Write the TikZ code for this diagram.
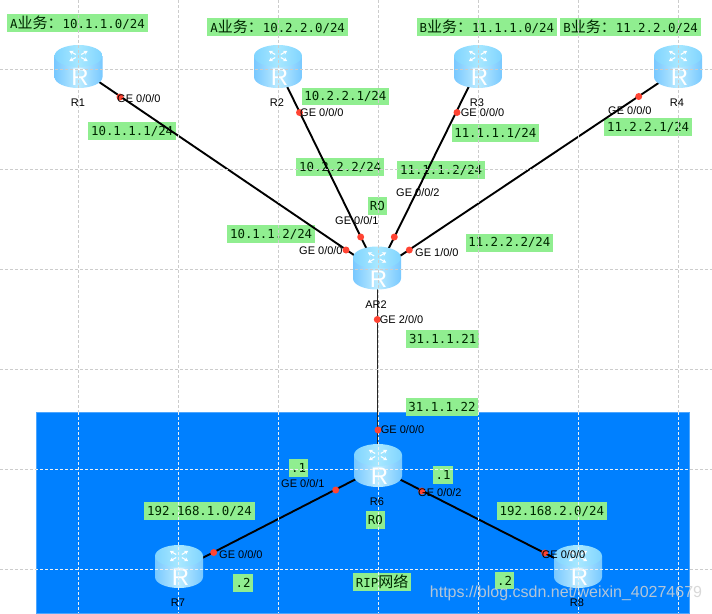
\documentclass[tikz,border=0pt]{standalone}
\usepackage{fontspec}
\setmainfont{Liberation Sans}
\newfontfamily\labmono{DejaVu Sans Mono}
\newfontfamily\cjkf{Noto Sans CJK SC}
\usetikzlibrary{arrows.meta}
\definecolor{labgreen}{HTML}{90EE90}
\definecolor{netblue}{HTML}{0080FF}
\definecolor{portred}{HTML}{FF4433}
\definecolor{gridgray}{HTML}{CCCCCC}
\definecolor{bodyedge}{HTML}{78C8FF}
\definecolor{bodymid}{HTML}{BDECFF}
\definecolor{topedge}{HTML}{80D4FF}
\definecolor{topmid}{HTML}{A8E8FF}
\tikzset{
  labelbox/.style={fill=labgreen,inner sep=0pt,font=\labmono\fontsize{12.4}{14}\selectfont,text=black!85!green},
  hub/.style={inner sep=0pt,minimum size=0pt},
  link/.style={line width=1.9pt,black},
  trunk/.style={line width=1.1pt,black!85},
  port/.style={circle,fill=portred,inner sep=0pt,minimum size=7pt},
  iface/.style={anchor=west,inner sep=0pt,font=\fontsize{11}{12}\selectfont,text=black},
  rname/.style={inner sep=0pt,font=\fontsize{11}{12}\selectfont,text=black},
  gridline/.style={line width=.7pt,dash pattern=on 3pt off 2pt}
}
\newcommand{\labbox}[6]{%
  \pgfmathsetmacro{\bw}{#4-#2}\pgfmathsetmacro{\bh}{#5-#3}%
  \pgfmathsetmacro{\bx}{(#2+#4)/2}\pgfmathsetmacro{\by}{(#3+#5)/2}%
  \node[labelbox,minimum width=\bw pt,minimum height=\bh pt] (#1) at (\bx,\by) {#6};}
\newcommand{\routericon}[3]{%
  \begin{scope}[shift={(#2,#3)}]
    \shade[left color=bodyedge,right color=bodyedge,middle color=bodymid]
      (-24,-10.5) -- (-24,10.5) arc[start angle=180,end angle=0,x radius=24,y radius=11] -- (24,-10.5) -- cycle;
    \shade[left color=topedge,right color=topedge,middle color=topmid]
      (0,-10.5) ellipse[x radius=24,y radius=11];
    \begin{scope}[shift={(0,-10.5)},yscale=.55]
      \foreach \a in {45,135,225,315}{
        \draw[white,line width=1.1pt,-{Stealth[length=4pt,width=4.5pt]},rotate=\a] (4,0) -- (13,0);
      }
    \end{scope}
    \node[hub,text=white,font=\fontsize{24}{25}\selectfont] (#1icon) at (1.5,11) {R};
  \end{scope}}
\begin{document}
\begin{tikzpicture}[x=1pt,y=-1pt]
\useasboundingbox (0,0) rectangle (712,613);
\fill[white] (0,0) rectangle (712,613);
\filldraw[fill=netblue,draw=netblue!70!white,line width=.7pt] (36,412.5) rectangle (689.5,613);

% labels
\labbox{a1}{7.3}{14.3}{147.7}{32}{A{\cjkf\fontsize{15}{16}\selectfont 业务：}10.1.1.0/24}
\labbox{a2}{207.3}{18.3}{348}{35.7}{A{\cjkf\fontsize{15}{16}\selectfont 业务：}10.2.2.0/24}
\labbox{b3}{416.7}{18.3}{557}{35.7}{B{\cjkf\fontsize{15}{16}\selectfont 业务：}11.1.1.0/24}
\labbox{b4}{560.3}{18.3}{701}{35.7}{B{\cjkf\fontsize{15}{16}\selectfont 业务：}11.2.2.0/24}
\labbox{i1}{88.3}{122.3}{176}{140}{10.1.1.1/24}
\labbox{i2}{301.7}{87.7}{389}{105}{10.2.2.1/24}
\labbox{i3}{296.3}{158.3}{384}{175.7}{10.2.2.2/24}
\labbox{i4}{451.7}{124.3}{539}{141.7}{11.1.1.1/24}
\labbox{i5}{397.3}{161.3}{485}{179}{11.1.1.2/24}
\labbox{i6}{604.3}{118.3}{692}{136}{11.2.2.1/24}
\labbox{ro1}{367.7}{197.3}{387}{215}{RO}
\labbox{i7}{227.3}{225.3}{315}{242.7}{10.1.1.2/24}
\labbox{i8}{465.7}{234}{553}{251.7}{11.2.2.2/24}
\labbox{i9}{406.3}{330}{479}{347.7}{31.1.1.21}
\labbox{i10}{405.7}{398}{478.3}{415.7}{31.1.1.22}
\labbox{d1}{288.7}{459.3}{308.3}{477}{.1}
\labbox{n1}{144.3}{502.3}{254.7}{520}{192.168.1.0/24}
\labbox{ro2}{365.7}{511.3}{385}{529}{RO}
\labbox{d2}{233.3}{574}{253}{591.7}{.2}
\labbox{rip}{353.3}{573.3}{411}{591}{RIP{\cjkf\fontsize{15}{16}\selectfont 网络}}
\labbox{d3}{433.3}{466.3}{453}{484}{.1}
\labbox{n2}{496.7}{502.3}{607}{520}{192.168.2.0/24}
\labbox{d4}{494.7}{571.7}{514.3}{589.3}{.2}

% link hubs
\node[hub] (R1) at (78.5,68) {};
\node[hub] (R2) at (278,68) {};
\node[hub] (R3) at (478,68) {};
\node[hub] (R4) at (678,70) {};
\node[hub] (AR2) at (377.5,271) {};
\node[hub] (R6) at (377.5,468) {};
\node[hub] (R7) at (179,570) {};
\node[hub] (R8) at (578,570) {};

% connectors
\draw[link] (R1) -- (AR2);
\draw[link] (R2) -- (AR2);
\draw[link] (R3) -- (AR2);
\draw[link] (R4) -- (AR2);
\draw[trunk] (AR2) -- (R6);
\draw[link] (R6) -- (R7);
\draw[link] (R6) -- (R8);

% routers
\routericon{R1}{78.5}{66.5}
\routericon{R2}{278}{66.5}
\routericon{R3}{478}{66.5}
\routericon{R4}{678}{66.5}
\routericon{AR2}{377}{268}
\routericon{R6}{378}{465.5}
\routericon{R7}{179}{566.5}
\routericon{R8}{578}{566.5}

% grid
\begin{scope}
  \clip (0,0) rectangle (712,412);
  \foreach \x in {78.5,178.5,278.5,378.5,478.5,578.5,678.5} \draw[gridline,gridgray] (\x,0) -- (\x,613);
  \foreach \y in {69.5,169.5,269.5,369.5} \draw[gridline,gridgray] (0,\y) -- (712,\y);
\end{scope}
\begin{scope}
  \clip (36,412) rectangle (690,613);
  \foreach \x in {78.5,178.5,278.5,378.5,478.5,578.5,678.5} \draw[gridline,white!88!gray] (\x,412) -- (\x,613);
  \foreach \y in {469.5,569.5} \draw[gridline,white!88!gray] (0,\y) -- (712,\y);
\end{scope}
\foreach \y in {469.5,569.5} {
  \draw[gridline,gridgray] (0,\y) -- (36,\y);
  \draw[gridline,gridgray] (690,\y) -- (712,\y);
}

% ports
\foreach \n/\x/\y in {p1/120/97,p2/299.5/112.5,p3/457/112.5,p4/638.7/96.5,p5/346/250,p6/360.7/237,p7/394.3/237,p8/409.3/250,p9/377.3/319.5,p10/378/430,p11/335.7/490,p12/421.7/491,p13/213.7/552.5,p14/544.7/553}
  \node[port] (\n) at (\x,\y) {};

% interface labels
\node[iface] (g1) at (117,99) {GE 0/0/0};
\node[iface] (g2) at (300,113) {GE 0/0/0};
\node[iface] (g3) at (460.7,113) {GE 0/0/0};
\node[iface] (g4) at (608,111) {GE 0/0/0};
\node[iface] (g5) at (396,193) {GE 0/0/2};
\node[iface] (g6) at (335,221) {GE 0/0/1};
\node[iface] (g7) at (299,251) {GE 0/0/0};
\node[iface] (g8) at (415,253) {GE 1/0/0};
\node[iface] (g9) at (379.7,320) {GE 2/0/0};
\node[iface] (g10) at (380.7,430) {GE 0/0/0};
\node[iface] (g11) at (281,484) {GE 0/0/1};
\node[iface] (g12) at (418,493) {GE 0/0/2};
\node[iface] (g13) at (219,555) {GE 0/0/0};
\node[iface] (g14) at (541.7,555) {GE 0/0/0};

% router names
\node[rname] (t1) at (78,102.5) {R1};
\node[rname] (t2) at (277,103) {R2};
\node[rname] (t3) at (477,102.5) {R3};
\node[rname] (t4) at (677,102.5) {R4};
\node[rname] (t5) at (376,305) {AR2};
\node[rname] (t6) at (377,502) {R6};
\node[rname] (t7) at (178,603) {R7};
\node[rname] (t8) at (577,603) {R8};

% watermark
\node[inner sep=0pt,text=gray!35!white,opacity=.85,font=\fontsize{16}{17}\selectfont] (wm) at (566,593) {https://blog.csdn.net/weixin\_40274679};
\end{tikzpicture}
\end{document}
